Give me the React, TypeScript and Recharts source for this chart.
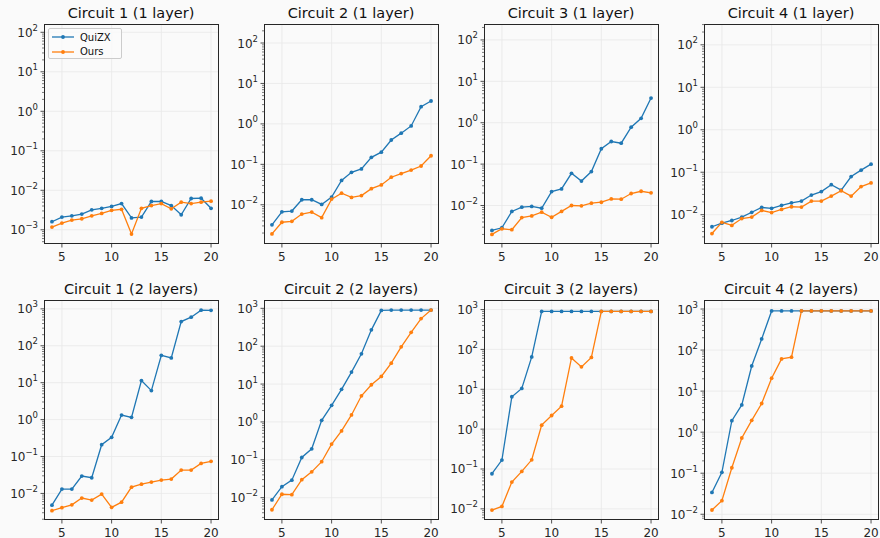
import { LineChart, Line, XAxis, YAxis, ReferenceLine } from "recharts";

// qubit counts on the x axis
const qubits = [4, 5, 6, 7, 8, 9, 10, 11, 12, 13, 14, 15, 16, 17, 18, 19, 20];

// runtimes (s), 1 layer
const quizxC1L1 = [0.0016, 0.0021, 0.00226, 0.0025, 0.0032, 0.0035, 0.0039, 0.0046, 0.002, 0.0021, 0.0052, 0.0052, 0.0041, 0.0024, 0.0062, 0.0063, 0.0035];
const oursC1L1 = [0.00117, 0.00148, 0.00176, 0.0019, 0.00226, 0.0026, 0.0031, 0.0033, 0.00078, 0.0035, 0.0041, 0.0046, 0.0034, 0.005, 0.0046, 0.005, 0.0053];
const quizxC2L1 = [0.0032, 0.0067, 0.007, 0.0133, 0.0133, 0.0102, 0.0155, 0.04, 0.0636, 0.077, 0.149, 0.2, 0.4, 0.59, 0.89, 2.67, 3.68];
const oursC2L1 = [0.0019, 0.0037, 0.0039, 0.0059, 0.0066, 0.0048, 0.0138, 0.0194, 0.0152, 0.0169, 0.025, 0.031, 0.048, 0.059, 0.072, 0.091, 0.163];
const quizxC3L1 = [0.0025, 0.0029, 0.0072, 0.0091, 0.0095, 0.0086, 0.0217, 0.0252, 0.06, 0.039, 0.066, 0.235, 0.352, 0.32, 0.78, 1.28, 3.95];
const oursC3L1 = [0.002, 0.00274, 0.0026, 0.0051, 0.0056, 0.0069, 0.0052, 0.0072, 0.01, 0.0098, 0.0114, 0.012, 0.0144, 0.0142, 0.0195, 0.0221, 0.0202];
const quizxC4L1 = [0.0052, 0.0063, 0.0073, 0.0088, 0.0114, 0.0148, 0.0141, 0.0166, 0.019, 0.0209, 0.029, 0.035, 0.051, 0.038, 0.079, 0.112, 0.155];
const oursC4L1 = [0.0036, 0.0066, 0.0056, 0.0081, 0.0088, 0.0126, 0.0112, 0.0133, 0.0154, 0.0151, 0.0209, 0.0209, 0.0274, 0.0366, 0.0274, 0.046, 0.056];

// runtimes (s), 2 layers (900 = timeout)
const quizxC1L2 = [0.0048, 0.0131, 0.0131, 0.0295, 0.0266, 0.209, 0.33, 1.33, 1.15, 11.4, 6.1, 55, 47, 453, 594, 920, 910];
const oursC1L2 = [0.0034, 0.0041, 0.0049, 0.0075, 0.0066, 0.0096, 0.0042, 0.0058, 0.0148, 0.0178, 0.0203, 0.023, 0.0245, 0.043, 0.043, 0.065, 0.074];
const quizxC2L2 = [0.0087, 0.0195, 0.029, 0.115, 0.195, 1.1, 2.75, 7.25, 20.7, 63, 270, 880, 900, 900, 900, 900, 900];
const oursC2L2 = [0.0048, 0.0123, 0.012, 0.0298, 0.048, 0.089, 0.26, 0.58, 1.53, 4.9, 9.6, 15.9, 35.7, 96, 233, 535, 900];
const quizxC3L2 = [0.076, 0.167, 6.5, 10.5, 65, 900, 900, 900, 900, 900, 900, 900, 900, 900, 900, 900, 900];
const oursC3L2 = [0.0093, 0.0115, 0.047, 0.087, 0.17, 1.26, 2.2, 3.76, 61, 36.5, 63, 900, 900, 900, 900, 900, 900];
const quizxC4L2 = [0.034, 0.105, 1.9, 4.6, 41, 187, 900, 900, 900, 900, 900, 900, 900, 900, 900, 900, 900];
const oursC4L2 = [0.0127, 0.0214, 0.136, 0.72, 1.94, 5.0, 20.7, 61, 67, 900, 900, 900, 900, 900, 900, 900, 900];

const titles = [
  "Circuit 1 (1 layer)", "Circuit 2 (1 layer)", "Circuit 3 (1 layer)", "Circuit 4 (1 layer)",
  "Circuit 1 (2 layers)", "Circuit 2 (2 layers)", "Circuit 3 (2 layers)", "Circuit 4 (2 layers)",
];
const quizxSeries = [quizxC1L1, quizxC2L1, quizxC3L1, quizxC4L1, quizxC1L2, quizxC2L2, quizxC3L2, quizxC4L2];
const oursSeries = [oursC1L1, oursC2L1, oursC3L1, oursC4L1, oursC1L2, oursC2L2, oursC3L2, oursC4L2];
// log10 of y limits per panel
const yLimits = [
  [-3.36, 2.21], [-2.97, 2.47], [-2.93, 2.385], [-2.69, 2.49],
  [-2.72, 3.24], [-2.59, 3.22], [-2.28, 3.24], [-2.14, 3.22],
];
const xTicks = [5, 10, 15, 20];

const BLUE = "#1f77b4";
const ORANGE = "#ff7f0e";
const FONT = "DejaVu Sans, sans-serif";
const INK = "#262626";

const colLeft = [43.5, 263.5, 483.5, 703.5];
const rowTop = [24, 299.5];
const PW = 175;
const PH = 220;
const PAD_L = 44;
const PAD_T = 20;
const AX_H = 22;

function makeTicks(lo: number, hi: number) {
  const out: number[] = [];
  for (let e = Math.floor(lo); e <= Math.ceil(hi); e++) {
    for (let m = 1; m < 10; m++) {
      const v = m * Math.pow(10, e);
      const l = Math.log10(v);
      if (l >= lo && l <= hi) out.push(v);
    }
  }
  return out;
}

function isMajor(v: number) {
  const l = Math.log10(v);
  return Math.abs(l - Math.round(l)) < 1e-9;
}

function YTick(props: any) {
  const { x, y, payload } = props;
  const v = payload.value;
  const major = isMajor(v);
  const e = Math.round(Math.log10(v));
  return (
    <g>
      <line x1={x} x2={x - (major ? 3.5 : 2)} y1={y} y2={y} stroke={INK} strokeWidth={major ? 0.8 : 0.6} />
      {major && (
        <text x={x - 6} y={y + 4.5} textAnchor="end" fontSize={12} fill={INK} fontFamily={FONT}>
          10
          <tspan dy={-6} fontSize={8.5}>{e < 0 ? "\u2212" + -e : String(e)}</tspan>
        </text>
      )}
    </g>
  );
}

function XTick(props: any) {
  const { x, y, payload } = props;
  return (
    <g>
      <line x1={x} x2={x} y1={y} y2={y + 3.5} stroke={INK} strokeWidth={0.8} />
      <text x={x} y={y + 17} textAnchor="middle" fontSize={12} fill={INK} fontFamily={FONT}>
        {payload.value}
      </text>
    </g>
  );
}

function Panel({ idx }: { idx: number }) {
  const col = idx % 4;
  const row = Math.floor(idx / 4);
  const [lo, hi] = yLimits[idx];
  const yDomain = [Math.pow(10, lo), Math.pow(10, hi)];
  const ticks = makeTicks(lo, hi);
  const majors = ticks.filter(isMajor);
  const data = qubits.map((n, i) => ({ n, quizx: quizxSeries[idx][i], ours: oursSeries[idx][i] }));
  const left = colLeft[col];
  const top = rowTop[row];
  return (
    <>
      <div
        style={{
          position: "absolute",
          left,
          width: PW,
          top: top - 20,
          textAlign: "center",
          fontFamily: FONT,
          fontSize: 14.5,
          lineHeight: "18px",
          color: "#111",
          whiteSpace: "nowrap",
        }}
      >
        {titles[idx]}
      </div>
      <div style={{ position: "absolute", left: left - PAD_L, top: top - PAD_T }}>
        <LineChart
          width={PW + PAD_L + 2}
          height={PH + PAD_T + AX_H}
          data={data}
          margin={{ top: PAD_T, right: 2, left: 0, bottom: 0 }}
        >
          <XAxis
            type="number"
            dataKey="n"
            domain={[3.2, 20.8]}
            ticks={xTicks}
            allowDataOverflow
            height={AX_H}
            tickSize={0}
            tickMargin={0}
            axisLine={false}
            tickLine={false}
            tick={<XTick />}
          />
          <YAxis
            type="number"
            scale="log"
            domain={yDomain}
            ticks={ticks}
            allowDataOverflow
            width={PAD_L}
            tickSize={0}
            tickMargin={0}
            axisLine={false}
            tickLine={false}
            interval={0}
            tick={<YTick />}
          />
          {majors.map((v) => (
            <ReferenceLine key={"y" + v} y={v} stroke="#e8e8e8" strokeWidth={0.8} />
          ))}
          {xTicks.map((v) => (
            <ReferenceLine key={"x" + v} x={v} stroke="#e8e8e8" strokeWidth={0.8} />
          ))}
          <Line
            type="linear"
            dataKey="quizx"
            name="QuiZX"
            stroke={BLUE}
            strokeWidth={1.3}
            dot={{ r: 1.9, fill: BLUE, stroke: "none" }}
            isAnimationActive={false}
          />
          <Line
            type="linear"
            dataKey="ours"
            name="Ours"
            stroke={ORANGE}
            strokeWidth={1.3}
            dot={{ r: 1.9, fill: ORANGE, stroke: "none" }}
            isAnimationActive={false}
          />
        </LineChart>
      </div>
      <div
        style={{
          position: "absolute",
          left,
          top,
          width: PW,
          height: PH,
          boxSizing: "border-box",
          border: "1px solid " + INK,
          pointerEvents: "none",
        }}
      />
    </>
  );
}

function LegendBox() {
  const items = [
    { label: "QuiZX", color: BLUE },
    { label: "Ours", color: ORANGE },
  ];
  return (
    <div
      style={{
        position: "absolute",
        left: 48,
        top: 28,
        width: 74,
        height: 31,
        boxSizing: "border-box",
        border: "1px solid #cccccc",
        borderRadius: 2,
        background: "rgba(250,250,250,0.85)",
        fontFamily: FONT,
        fontSize: 10,
        color: "#111",
      }}
    >
      {items.map((it, i) => (
        <div key={it.label} style={{ position: "absolute", left: 2, top: 2 + i * 14.5, height: 12, display: "flex", alignItems: "center" }}>
          <svg width={24} height={12}>
            <line x1={1} x2={23} y1={6} y2={6} stroke={it.color} strokeWidth={1.3} />
            <circle cx={12} cy={6} r={1.9} fill={it.color} />
          </svg>
          <span style={{ marginLeft: 5 }}>{it.label}</span>
        </div>
      ))}
    </div>
  );
}

export default function App() {
  return (
    <div style={{ position: "absolute", left: 0, top: 0, width: 880, height: 538, background: "#fafafa", overflow: "hidden" }}>
      {titles.map((_, i) => (
        <Panel key={i} idx={i} />
      ))}
      <LegendBox />
    </div>
  );
}
